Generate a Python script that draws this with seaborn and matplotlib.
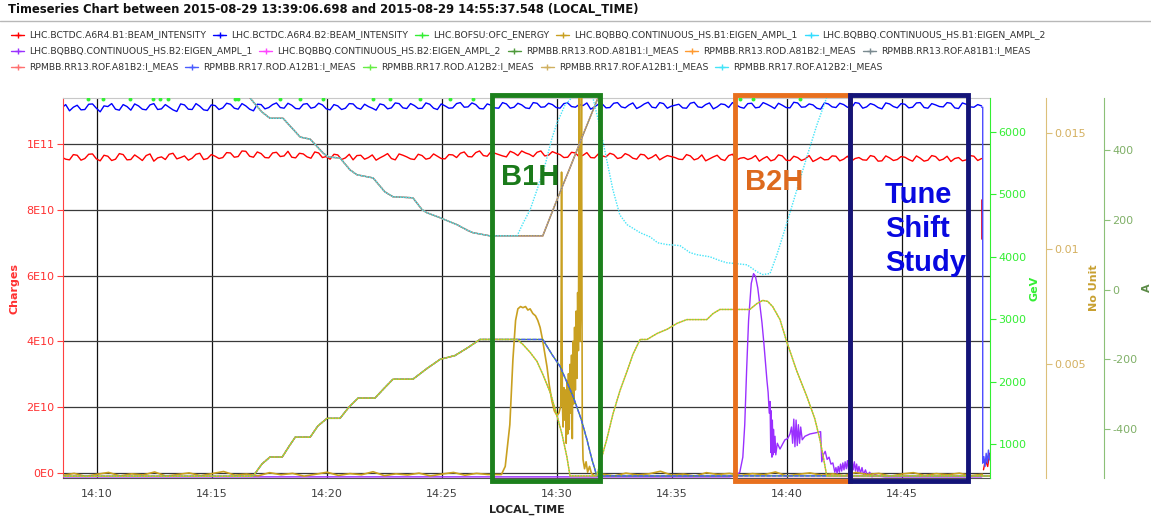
import matplotlib
matplotlib.use("Agg")
import matplotlib.pyplot as plt
import matplotlib.dates as mdates
from matplotlib.lines import Line2D
from matplotlib.patches import Rectangle
import numpy as np
import pandas as pd
import seaborn as sns

DAY = "2015-08-29 "
W, H = 1151, 520

title = "Timeseries Chart between 2015-08-29 13:39:06.698 and 2015-08-29 14:55:37.548 (LOCAL_TIME)"

# colours of the logged variables
C_B1 = "#ff0000"
C_B2 = "#0000ff"
C_E = "#33ee33"
C_Q1A1 = "#c9a020"
C_Q1A2 = "#33ddff"
C_Q2A1 = "#9a30ff"
C_Q2A2 = "#ff44ff"
C_13D1 = "#4f9a3c"
C_13D2 = "#ff9a30"
C_13F1 = "#7a8a90"
C_13F2 = "#ff7070"
C_17D1 = "#4a5cff"
C_17D2 = "#66ee44"
C_17F1 = "#d0b060"
C_17F2 = "#44e4f8"

legend_rows = [
    [("LHC.BCTDC.A6R4.B1:BEAM_INTENSITY", C_B1),
     ("LHC.BCTDC.A6R4.B2:BEAM_INTENSITY", C_B2),
     ("LHC.BOFSU:OFC_ENERGY", C_E),
     ("LHC.BQBBQ.CONTINUOUS_HS.B1:EIGEN_AMPL_1", C_Q1A1),
     ("LHC.BQBBQ.CONTINUOUS_HS.B1:EIGEN_AMPL_2", C_Q1A2)],
    [("LHC.BQBBQ.CONTINUOUS_HS.B2:EIGEN_AMPL_1", C_Q2A1),
     ("LHC.BQBBQ.CONTINUOUS_HS.B2:EIGEN_AMPL_2", C_Q2A2),
     ("RPMBB.RR13.ROD.A81B1:I_MEAS", C_13D1),
     ("RPMBB.RR13.ROD.A81B2:I_MEAS", C_13D2),
     ("RPMBB.RR13.ROF.A81B1:I_MEAS", C_13F1)],
    [("RPMBB.RR13.ROF.A81B2:I_MEAS", C_13F2),
     ("RPMBB.RR17.ROD.A12B1:I_MEAS", C_17D1),
     ("RPMBB.RR17.ROD.A12B2:I_MEAS", C_17D2),
     ("RPMBB.RR17.ROF.A12B1:I_MEAS", C_17F1),
     ("RPMBB.RR17.ROF.A12B2:I_MEAS", C_17F2)],
]

# ---------------- data ----------------
# beam intensities in units of 1E9 charges; samples every 20 s from 14:08:28
# plus the readings logged half-way between them (10 s later)
intensity_start = "14:08:28"
b1_intensity = [
    96.0, 95.2, 96.6, 95.6, 97.0, 94.9, 96.3, 95.4, 96.8, 95.3,
    95.9, 96.5, 94.8, 96.1, 96.9, 95.5, 96.4, 95.7, 97.2, 95.6,
    96.3, 95.9, 97.3, 96.2, 97.8, 96.0, 97.1, 95.8, 97.5, 96.4,
    96.0, 97.2, 96.1, 97.6, 95.9, 95.4, 96.7, 95.8, 95.2, 96.6,
    95.9, 95.1, 96.4, 95.6, 97.0, 96.1, 95.3, 96.5, 95.7, 96.3,
    95.5, 96.7, 97.2, 96.2, 97.4, 96.5, 97.7, 96.8, 96.1, 97.3,
    97.9, 96.9, 97.5, 96.4, 97.7, 96.8, 96.0, 97.3, 96.6, 95.9,
    97.0, 96.1, 96.8, 95.9, 96.6, 95.4, 96.7, 96.0, 95.2, 96.5,
    95.9, 95.3, 96.4, 95.6, 94.9, 96.1, 95.4, 96.5, 95.1, 95.9,
    95.7, 94.8, 96.2, 95.3, 96.4, 95.0, 95.9, 95.5, 94.7, 96.0,
    95.3, 96.3, 95.4, 94.8, 95.9, 95.1, 96.2, 94.9, 95.8, 95.3,
    96.0, 94.8, 95.7, 95.1, 96.2, 95.4, 94.7, 95.9, 95.2, 96.3,
    95.6,
]
b1_intensity_mid = [
    95.4, 96.8, 95.1, 96.9, 95.5, 96.6, 95.0, 97.1, 95.2, 96.7,
    95.0, 97.0, 95.8, 95.3, 97.2, 95.9, 95.1, 96.9, 95.3, 96.8,
    95.6, 97.4, 96.0, 97.9, 96.3, 97.6, 95.9, 97.3, 96.2, 97.8,
    95.8, 97.0, 95.7, 97.3, 96.2, 96.9, 95.3, 96.9, 96.5, 95.4,
    96.7, 95.8, 97.1, 95.2, 96.6, 95.5, 96.9, 95.4, 97.0, 95.6,
    96.8, 95.9, 97.6, 96.1, 97.9, 96.3, 97.2, 96.4, 97.8, 96.5,
    97.3, 96.2, 97.9, 96.6, 97.2, 95.9, 97.5, 96.1, 97.4, 95.8,
    96.4, 97.2, 95.6, 97.1, 95.7, 96.9, 95.5, 96.8, 95.9, 96.2,
    95.4, 96.8, 95.2, 96.7, 95.5, 96.6, 95.0, 96.9, 95.7, 95.3,
    96.5, 95.6, 94.9, 96.7, 95.1, 96.3, 95.0, 96.5, 95.3, 95.2,
    96.4, 94.9, 96.3, 95.6, 95.2, 96.5, 94.8, 96.4, 95.0, 96.2,
    95.3, 96.4, 94.8, 96.5, 95.0, 96.3, 95.6, 94.9, 96.5, 95.0,
]
b2_intensity = [
    111.0, 110.1, 111.8, 110.5, 112.2, 109.8, 111.4, 110.6, 112.0, 110.3,
    111.6, 110.4, 112.3, 110.7, 111.2, 109.9, 111.9, 110.5, 111.5, 110.2,
    111.7, 111.0, 112.1, 110.6, 111.6, 110.1, 112.0, 111.1, 112.5, 110.9,
    111.8, 110.7, 112.3, 111.2, 111.9, 110.4, 111.6, 110.9, 112.2, 110.6,
    111.4, 110.3, 111.9, 111.0, 112.3, 110.8, 111.7, 110.9, 112.1, 110.5,
    111.6, 111.0, 112.6, 111.3, 112.0, 110.7, 111.8, 110.9, 112.2, 111.2,
    111.9, 110.8, 112.4, 111.3, 112.0, 110.9, 112.5, 111.2, 111.7, 110.6,
    112.1, 111.0, 112.4, 111.3, 111.9, 110.8, 112.2, 111.2, 112.6, 110.9,
    111.8, 111.0, 112.4, 111.3, 112.0, 110.7, 112.2, 111.1, 111.9, 110.9,
    112.4, 111.2, 112.1, 110.8, 111.8, 111.0, 112.5, 111.3, 111.9, 110.6,
    112.2, 111.1, 112.0, 110.9, 112.4, 111.3, 111.9, 110.7, 112.2, 111.0,
    112.1, 111.2, 112.6, 110.9, 111.9, 111.3, 112.4, 110.8, 112.1, 111.2,
    111.6,
]
b2_intensity_mid = [
    112.0, 111.2, 110.4, 112.1, 110.9, 111.6, 112.3, 110.3, 111.4, 112.2,
    110.6, 111.9, 110.5, 112.0, 110.4, 112.2, 110.6, 112.3, 110.4, 111.9,
    110.5, 112.4, 110.9, 112.3, 110.6, 112.1, 110.7, 112.0, 111.1, 112.4,
    110.8, 112.1, 110.9, 112.4, 110.7, 112.0, 110.5, 112.3, 111.0, 112.1,
    110.9, 112.2, 110.7, 112.5, 111.0, 112.3, 110.8, 112.5, 110.9, 112.2,
    110.9, 112.3, 111.2, 112.5, 110.8, 112.2, 111.0, 112.6, 110.9, 112.4,
    111.0, 112.6, 111.2, 112.4, 111.1, 112.3, 111.4, 112.0, 112.5, 111.3,
    112.2, 111.1, 112.6, 111.0, 112.5, 111.4, 112.7, 111.0, 112.3, 111.5,
    112.1, 110.9, 112.7, 111.1, 112.5, 111.3, 112.0, 112.6, 111.2, 112.3,
    111.0, 112.6, 111.5, 112.4, 111.1, 112.7, 111.2, 112.2, 110.9, 112.5,
    111.3, 112.4, 111.2, 112.6, 110.9, 112.3, 111.1, 112.5, 111.4, 112.3,
    111.0, 112.5, 111.1, 112.3, 111.4, 112.6, 111.0, 112.5, 111.3, 112.0,
]
# beam dump at the end of the window (1E9 charges)
b1_dump_t = ["14:48:29", "14:48:29"]
b1_dump_v = [83.0, 71.0]
b1_tail_t = ["14:48:33", "14:48:38", "14:48:44", "14:48:49"]
b1_tail_v = [1.0, 4.0, 2.0, 6.0]
b2_dump_t = ["14:48:28", "14:48:31", "14:48:31", "14:48:34", "14:48:37",
             "14:48:40", "14:48:43", "14:48:46", "14:48:49"]
b2_dump_v = [111.2, 111.2, 3.0, 5.0, 2.0, 6.0, 3.0, 7.0, 4.0]

# energy samples (GeV)
energy_t = ["14:09:37", "14:10:16", "14:11:26", "14:12:26", "14:12:44", "14:13:05",
            "14:16:00", "14:16:08", "14:17:58", "14:18:50", "14:19:50", "14:22:00",
            "14:22:44", "14:24:03", "14:25:21", "14:26:21", "14:37:58", "14:38:31",
            "14:40:34"]
energy_v = [6530] * 19

# B1 tune eigen amplitude (no unit): baseline every 30 s from 14:08:30, in 1E-4
gold_base_start = "14:08:30"
gold_base = [
    2.1, 3.0, 1.7, 2.6, 3.4, 1.9, 2.8, 2.3, 3.6, 1.8,
    2.5, 3.2, 2.0, 2.9, 3.8, 2.2, 2.7, 1.9, 3.3, 2.4,
    3.0, 1.8, 2.6, 3.5, 2.1, 2.9, 2.4, 3.7, 2.0, 2.8,
    2.3, 3.1, 1.9, 2.7, 3.4, 2.2, 3.0, 2.5, 3.6, 2.1,
    2.8, 1.8, 3.2, 2.4, 2.9, 2.0, 3.5, 2.6, 1.9, 3.1,
    2.3, 2.8, 3.9, 2.2, 2.7, 1.8, 3.3, 2.5, 3.0, 2.1,
    2.9, 2.4, 3.6, 1.9, 2.6, 3.2, 2.2, 2.8, 2.0, 3.4,
    2.5, 3.0, 1.8, 2.7, 3.3, 2.1, 2.9, 2.4, 3.1, 2.0,
    2.6,
]
# B1H excitation, in 1E-3
gold_event_t = [
    "14:27:35", "14:27:45", "14:27:57", "14:28:05", "14:28:12", "14:28:18", "14:28:25",
    "14:28:31", "14:28:38", "14:28:44", "14:28:50", "14:28:57", "14:29:04", "14:29:10",
    "14:29:16", "14:29:22", "14:29:28", "14:29:34", "14:29:40", "14:29:47", "14:29:53",
    "14:30:00", "14:30:05", "14:30:10", "14:30:12", "14:30:14", "14:30:16", "14:30:18",
    "14:30:20", "14:30:22", "14:30:24", "14:30:26", "14:30:28", "14:30:30", "14:30:32",
    "14:30:34", "14:30:36", "14:30:38", "14:30:40", "14:30:42", "14:30:44", "14:30:46",
    "14:30:48", "14:30:50", "14:30:52", "14:30:54", "14:30:56", "14:30:58", "14:31:00",
    "14:31:02", "14:31:04", "14:31:06", "14:31:08", "14:31:12", "14:31:16", "14:31:20",
    "14:31:25", "14:31:30", "14:31:38",
]
gold_event_v = [
    0.25, 0.6, 2.4, 5.2, 6.9, 7.4, 7.5,
    7.45, 7.5, 7.35, 7.4, 7.2, 7.1, 6.9,
    6.6, 6.1, 5.5, 4.9, 4.1, 3.4, 3.0,
    2.8, 2.9, 3.2, 13.3, 3.4, 2.3, 4.0,
    2.6, 3.9, 1.6, 4.3, 2.0, 4.6, 2.2,
    5.0, 2.9, 5.4, 1.8, 6.0, 3.3, 6.6,
    3.9, 7.3, 4.4, 8.1, 5.6, 17.0, 6.0,
    7.8, 17.0, 2.5, 0.9, 0.5, 0.8, 0.35,
    0.6, 0.3, 0.2,
]

# B2 tune eigen amplitude (no unit), in 1E-3
purple_t = [
    "14:08:28", "14:37:30", "14:37:45", "14:37:57", "14:38:05", "14:38:10", "14:38:15",
    "14:38:20", "14:38:27", "14:38:33", "14:38:38", "14:38:44", "14:38:50", "14:38:55",
    "14:39:00", "14:39:04", "14:39:08", "14:39:11", "14:39:14", "14:39:16", "14:39:18",
    "14:39:19", "14:39:21", "14:39:22", "14:39:24", "14:39:25", "14:39:27", "14:39:29",
    "14:39:31", "14:39:35", "14:39:42", "14:39:50", "14:39:55", "14:40:02", "14:40:08",
    "14:40:12", "14:40:15", "14:40:18", "14:40:21", "14:40:24", "14:40:27", "14:40:30",
    "14:40:33", "14:40:36", "14:40:40", "14:40:47", "14:41:00", "14:41:15", "14:41:28",
    "14:41:31", "14:41:35", "14:41:40", "14:41:45", "14:41:50", "14:41:55", "14:42:00",
    "14:42:05", "14:42:08", "14:42:11", "14:42:14", "14:42:17", "14:42:20", "14:42:23",
    "14:42:26", "14:42:29", "14:42:32", "14:42:35", "14:42:38", "14:42:41", "14:42:44",
    "14:42:47", "14:42:50", "14:42:53", "14:42:56", "14:42:59", "14:43:02", "14:43:05",
    "14:43:08", "14:43:12", "14:43:16", "14:43:20", "14:43:25", "14:43:30", "14:43:36",
    "14:43:42", "14:43:50", "14:44:00", "14:44:16", "14:48:28",
]
purple_v = [
    0.15, 0.15, 0.2, 0.34, 1.0, 2.4, 4.8,
    6.9, 8.5, 8.92, 8.8, 8.3, 7.5, 6.8,
    5.9, 5.1, 4.3, 3.8, 2.9, 3.4, 1.2,
    3.0, 1.0, 2.6, 1.1, 2.2, 1.2, 1.9,
    1.1, 1.6, 1.35, 1.6, 1.75, 1.8, 2.0,
    2.3, 1.6, 2.64, 1.45, 2.6, 1.5, 2.4,
    1.6, 2.3, 1.75, 1.9, 2.0, 2.05, 2.1,
    0.8, 1.1, 1.25, 0.9, 1.0, 0.7, 0.75,
    0.35, 0.55, 0.3, 0.6, 0.35, 0.7, 0.4,
    0.75, 0.45, 0.8, 0.5, 0.85, 0.45, 0.9,
    0.5, 0.85, 0.45, 0.8, 0.4, 0.7, 0.35,
    0.6, 0.3, 0.55, 0.25, 0.45, 0.2, 0.35,
    0.15, 0.25, 0.18, 0.15, 0.15,
]
magenta_t = ["14:08:28", "14:48:28"]
magenta_v = [0.12, 0.12]

# octupole currents (A): common part of all focusing / defocusing circuits
rof_common_t = ["14:08:28", "14:16:26", "14:16:39", "14:17:10", "14:17:31", "14:18:05",
                "14:18:50", "14:19:16", "14:19:50", "14:20:03", "14:20:34", "14:21:00",
                "14:21:18", "14:22:00", "14:22:31", "14:22:52", "14:23:44", "14:24:08",
                "14:24:21", "14:24:55", "14:25:21", "14:25:39", "14:26:08", "14:26:21",
                "14:27:05", "14:28:16"]
rof_common_v = [575, 575, 549, 509, 491, 491,
                437, 431, 391, 380, 377, 343,
                329, 320, 280, 266, 263, 229,
                220, 206, 194, 186, 169, 163,
                154, 154]
rod_common_t = ["14:08:28", "14:16:47", "14:17:10", "14:17:31", "14:18:03", "14:18:21",
                "14:18:37", "14:19:16", "14:19:36", "14:20:00", "14:20:34", "14:20:57",
                "14:21:21", "14:22:05", "14:22:29", "14:22:52", "14:23:44", "14:24:21",
                "14:24:55", "14:25:34", "14:26:08", "14:26:39", "14:28:16"]
rod_common_v = [-535, -535, -500, -480, -480, -449,
                -423, -423, -391, -369, -369, -337,
                -311, -311, -283, -257, -257, -226,
                -200, -189, -166, -143, -143]
# beam 1 octupoles after 14:28:16
b1_rof_t = ["14:29:23", "14:29:57", "14:30:34", "14:31:10", "14:31:47", "14:32:18", "14:48:50"]
b1_rof_v = [154, 249, 349, 449, 549, 590, 590]
b1_rod_t = ["14:29:23", "14:29:47", "14:30:08", "14:30:42", "14:31:03", "14:31:18",
            "14:31:31", "14:31:44", "14:48:50"]
b1_rod_v = [-143, -186, -220, -306, -371, -429, -486, -534, -534]
# beam 2 octupoles after 14:28:16
b2_rof_t = ["14:28:31", "14:28:50", "14:29:08", "14:29:29", "14:29:47", "14:30:00",
            "14:30:21", "14:30:42", "14:31:00", "14:31:26", "14:31:34", "14:31:52",
            "14:32:10", "14:32:26", "14:32:44", "14:33:03", "14:33:37", "14:34:03",
            "14:34:23", "14:34:47", "14:35:21", "14:35:47", "14:36:05", "14:36:39",
            "14:37:05", "14:37:23", "14:38:16", "14:38:42", "14:38:57", "14:39:16",
            "14:39:34", "14:40:00", "14:40:26", "14:40:52", "14:41:18", "14:41:44",
            "14:42:05", "14:48:50"]
b2_rof_v = [189, 229, 286, 357, 434, 477,
            529, 554, 580, 580, 549, 466,
            371, 286, 214, 186, 163, 151,
            134, 129, 126, 106, 100, 94,
            83, 77, 71, 51, 43, 46,
            100, 191, 286, 380, 471, 551,
            590, 590]
b2_rod_t = ["14:28:31", "14:28:50", "14:29:08", "14:29:23", "14:29:42", "14:29:57",
            "14:30:13", "14:30:26", "14:30:34", "14:31:44", "14:31:57", "14:32:10",
            "14:32:26", "14:32:44", "14:33:03", "14:33:18", "14:33:37", "14:33:55",
            "14:34:21", "14:34:47", "14:35:13", "14:35:39", "14:36:31", "14:36:47",
            "14:37:05", "14:38:23", "14:38:42", "14:38:57", "14:39:10", "14:39:23",
            "14:39:42", "14:40:00", "14:40:26", "14:40:52", "14:41:13", "14:41:26",
            "14:41:36", "14:41:44", "14:48:50"]
b2_rod_v = [-157, -180, -206, -243, -294, -349,
            -414, -480, -534, -534, -480, -429,
            -357, -291, -234, -186, -143, -143,
            -126, -114, -97, -86, -86, -69,
            -57, -57, -40, -31, -34, -49,
            -86, -151, -234, -306, -371, -429,
            -486, -534, -534]

# shaded study windows
boxes = [("14:27:10", "14:31:52", "#1c801c"),
         ("14:37:44", "14:42:44", "#e8701e"),
         ("14:42:44", "14:47:52", "#141478")]

charge_ticks = [0, 2e10, 4e10, 6e10, 8e10, 1e11]
charge_labels = ["0E0", "2E10", "4E10", "6E10", "8E10", "1E11"]
gev_ticks = [1000, 2000, 3000, 4000, 5000, 6000]
nu_ticks = [0.005, 0.01, 0.015]
nu_labels = ["0.005", "0.01", "0.015"]
amp_ticks = [-400, -200, 0, 200, 400]


def ts(times):
    return pd.to_datetime([DAY + t for t in times])


def tnum(t):
    return mdates.date2num(pd.Timestamp(DAY + t))


def fx(px):
    return px / W


def fy(py):
    return 1 - py / H


def line(axis, t, v, color, lw=1.0, ls="-", z=2):
    sns.lineplot(x=t, y=np.asarray(v, dtype=float), ax=axis, color=color, linewidth=lw,
                 linestyle=ls, estimator=None, sort=False, zorder=z)


def interleave(main, mid):
    out = []
    for i, v in enumerate(main):
        out.append(v)
        if i < len(mid):
            out.append(mid[i])
    return out


sns.set_style("white")
plt.rcParams["font.family"] = ["DejaVu Sans"]

fig = plt.figure(figsize=(W / 100, H / 100), dpi=100)
ax = fig.add_axes([fx(63), fy(478), fx(990) - fx(63), fy(98) - fy(478)])
ax_gev = ax.twinx()
ax_nu = ax.twinx()
ax_a = ax.twinx()

# --- charges axis
b1_all = interleave(b1_intensity, b1_intensity_mid)
b2_all = interleave(b2_intensity, b2_intensity_mid)
it = pd.date_range(DAY + intensity_start, periods=len(b1_all), freq="10s")
line(ax, it, np.array(b1_all) * 1e9, C_B1)
line(ax, ts(b1_dump_t), np.array(b1_dump_v) * 1e9, "#d0002a", lw=1.2)
line(ax, ts(b1_tail_t), np.array(b1_tail_v) * 1e9, C_B1)
line(ax, it, np.array(b2_all) * 1e9, C_B2)
line(ax, ts(b2_dump_t), np.array(b2_dump_v) * 1e9, "#4b4bff")

# --- energy axis
sns.scatterplot(x=ts(energy_t), y=energy_v, ax=ax_gev, color=C_E, s=8, linewidth=0)

# --- tune amplitudes (no unit)
line(ax_nu, ts(magenta_t), np.array(magenta_v) * 1e-3, C_Q2A2)
line(ax_nu, ts(purple_t), np.array(purple_v) * 1e-3, C_Q2A1, lw=1.0)
gb = pd.DataFrame({"t": pd.date_range(DAY + gold_base_start, periods=len(gold_base), freq="30s"),
                   "v": np.array(gold_base) * 1e-4})
gb = gb[(gb.t < pd.Timestamp(DAY + "14:27:30")) | (gb.t > pd.Timestamp(DAY + "14:31:40"))]
ge = pd.DataFrame({"t": ts(gold_event_t), "v": np.array(gold_event_v) * 1e-3})
gold = pd.concat([gb, ge]).sort_values("t")
line(ax_nu, pd.DatetimeIndex(gold.t), gold.v.values, C_Q1A1, lw=1.2)

# --- octupole currents
dots = (0, (1, 1))
b1_rof = (ts(rof_common_t + b1_rof_t), rof_common_v + b1_rof_v)
b2_rof = (ts(rof_common_t + b2_rof_t), rof_common_v + b2_rof_v)
b1_rod = (ts(rod_common_t + b1_rod_t), rod_common_v + b1_rod_v)
b2_rod = (ts(rod_common_t + b2_rod_t), rod_common_v + b2_rod_v)
line(ax_a, *b1_rof, C_13F2)
line(ax_a, *b1_rof, C_13F1)
line(ax_a, *b1_rof, C_17F1, ls=dots)
line(ax_a, *b1_rod, C_13D1)
line(ax_a, *b1_rod, C_17D1, ls=(0, (3, 1)))
line(ax_a, *b2_rof, C_17F2, ls=dots)
line(ax_a, *b2_rod, C_13D2)
line(ax_a, *b2_rod, C_17D2, ls=dots)

# --- limits, ticks, spines
ax.set_xlim(pd.Timestamp(DAY + "14:08:31"), pd.Timestamp(DAY + "14:48:50"))
ax.set_ylim(-1.5e9, 1.14e11)
ax_gev.set_ylim(455, 6545)
ax_nu.set_ylim(0.0001, 0.0165)
ax_a.set_ylim(-540, 549)

ax.xaxis.set_major_locator(mdates.MinuteLocator(byminute=range(0, 60, 5)))
ax.xaxis.set_major_formatter(mdates.DateFormatter("%H:%M"))
ax.set_yticks(charge_ticks, charge_labels)
ax_gev.set_yticks(gev_ticks, [str(v) for v in gev_ticks])
ax_nu.set_yticks(nu_ticks, nu_labels)
ax_a.set_yticks(amp_ticks, [str(v) for v in amp_ticks])

ax.set_axisbelow(True)
ax.xaxis.grid(True, color="#111111", linewidth=0.9)
ax.yaxis.grid(True, color="#3a3a3a", linewidth=0.9)
for a in (ax_gev, ax_nu, ax_a):
    a.grid(False)
    for s in ("left", "top", "bottom"):
        a.spines[s].set_visible(False)
ax.spines["right"].set_visible(False)
ax.spines["top"].set_color("#c8c8c8")
ax.spines["bottom"].set_color("#555555")
ax.spines["left"].set_color("#ff4040")
ax_gev.spines["right"].set_color("#33ee33")
ax_nu.spines["right"].set_position(("axes", (1046 - 63) / 927))
ax_nu.spines["right"].set_color("#dcc07a")
ax_a.spines["right"].set_position(("axes", (1104 - 63) / 927))
ax_a.spines["right"].set_color("#8cc078")

ax.tick_params(axis="x", length=3, color="#444444", labelcolor="#404040", labelsize=8, pad=5)
ax.tick_params(axis="y", length=4, color="#ff4040", labelcolor="#ff3030", labelsize=8, pad=2)
ax_gev.tick_params(axis="y", length=4, color="#33ee33", labelcolor="#33ee33", labelsize=8, pad=2)
ax_nu.tick_params(axis="y", length=4, color="#dcc07a", labelcolor="#d4b060", labelsize=8, pad=2)
ax_a.tick_params(axis="y", length=4, color="#8cc078", labelcolor="#80b068", labelsize=8, pad=2)

ax.set_xlabel("LOCAL_TIME", fontweight="bold", fontsize=8, color="#222222")
ax.xaxis.set_label_coords(0.5, (478 - 505) / 380)
ax.set_ylabel("Charges", fontweight="bold", fontsize=8, color="#ff3030")
ax.yaxis.set_label_coords((20 - 63) / 927, 0.5)
ax_gev.set_ylabel("GeV", fontweight="bold", fontsize=8, color="#33ee33")
ax_gev.yaxis.set_label_coords((1030 - 63) / 927, 0.5)
ax_nu.set_ylabel("No Unit", fontweight="bold", fontsize=8, color="#c8a030")
ax_nu.yaxis.set_label_coords((1089 - 63) / 927, 0.5)
ax_a.set_ylabel("A", fontweight="bold", fontsize=8, color="#5a8a45")
ax_a.yaxis.set_label_coords((1142 - 63) / 927, 0.5)

# --- study windows and labels
box_top, box_bottom = 1.149e11, -2.3e9
for t0, t1, c in boxes:
    fig.add_artist(Rectangle((tnum(t0), box_bottom), tnum(t1) - tnum(t0), box_top - box_bottom,
                             transform=ax.transData, fill=False, edgecolor=c,
                             linewidth=3.5, joinstyle="miter", zorder=5))
note = dict(transform=ax.transData, family="Liberation Sans", fontweight="bold",
            fontsize=21, ha="left", va="baseline", zorder=6)
fig.text(tnum("14:27:34"), 8.75e10, "B1H", color="#1a7a1a", **note)
fig.text(tnum("14:38:10"), 8.60e10, "B2H", color="#dd6a1e", **note)
fig.text(tnum("14:44:16"), 8.20e10, "Tune", color="#0808e0", **note)
fig.text(tnum("14:44:16"), 7.17e10, "Shift", color="#0808e0", **note)
fig.text(tnum("14:44:16"), 6.13e10, "Study", color="#0808e0", **note)

# --- title bar and legend
r = fig.canvas.get_renderer()
ttl = fig.text(fx(8), fy(10), title, fontsize=8.5, fontweight="bold", color="#111111",
               ha="left", va="center")
ttl.set_fontsize(ttl.get_fontsize() * 633 / ttl.get_window_extent(r).width)
fig.add_artist(Line2D([0, 1], [fy(21), fy(21)], transform=fig.transFigure, color="#b8b8b8", lw=1))

probe = fig.text(0, 0, legend_rows[0][0][0], fontsize=7)
legend_fs = 7 * 178 / probe.get_window_extent(r).width
probe.remove()
legend_y = [35, 51, 67]
for row, y in zip(legend_rows, legend_y):
    x = 29
    for name, col in row:
        fig.add_artist(Line2D([fx(x - 18), fx(x - 5)], [fy(y), fy(y)], color=col, lw=1.0))
        fig.add_artist(Line2D([fx(x - 11.5)], [fy(y)], color=col, marker="+", markersize=5, mew=1.0))
        t = fig.text(fx(x), fy(y), name, fontsize=legend_fs, color="#333333", ha="left", va="center")
        x += t.get_window_extent(r).width + 25

fig.savefig("out.png", dpi=100)
